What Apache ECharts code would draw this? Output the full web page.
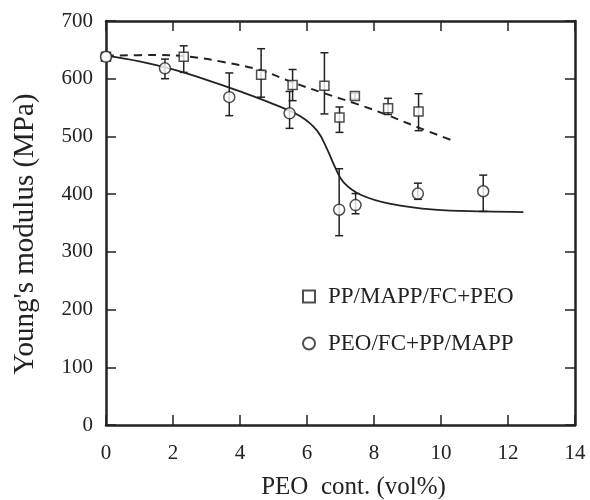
<!DOCTYPE html>
<html>
<head>
<meta charset="utf-8">
<script src="https://cdn.jsdelivr.net/npm/echarts@6/dist/echarts.min.js"></script>
<style>
  html, body { margin: 0; padding: 0; background: #fff; }
  #main { width: 590px; height: 500px; }
</style>
</head>
<body>
<div id="main"></div>
<script>
  // PP/MAPP/FC+PEO (squares)
  var sqX = [0, 2.32, 4.63, 5.57, 6.52, 6.97, 7.43, 8.42, 9.33]
  var sqY = [638, 638, 607, 589, 588, 533, 570, 549, 543]
  var sqLow = [638, 611, 568, 562, 539, 507, 565, 538, 510]
  var sqHigh = [638, 657, 652, 616, 645, 551, 575, 566, 574]
  // PEO/FC+PP/MAPP (circles)
  var ciX = [0, 1.76, 3.68, 5.48, 6.96, 7.45, 9.31, 11.26]
  var ciY = [638, 618, 568, 540, 373, 381, 401, 405]
  var ciLow = [638, 600, 536, 514, 328, 366, 391, 370]
  var ciHigh = [638, 634, 610, 578, 444, 401, 419, 433]
  // fitted curves
  var dashX = [0, 1.5, 2.5, 3.5, 4.6, 5.6, 6.5, 7.5, 8.4, 9.3, 10.34]
  var dashY = [640, 641, 638, 629, 615, 593, 575, 556, 537, 516, 493]
  var solidX = [0, 1, 2, 3, 4, 5, 5.8, 6.3, 6.6, 6.85, 7.1, 7.6, 8.5, 9.8, 11.3, 12.46]
  var solidY = [640, 630, 616, 598, 578, 556, 535, 510, 478, 445, 420, 399, 383, 373, 370, 369]

  var seriesNames = ['PP/MAPP/FC+PEO', 'PEO/FC+PP/MAPP']
  var ink = '#222'
  var font = '"Liberation Serif", "DejaVu Serif", serif'

  function zip () {
    var arrs = arguments
    return arrs[0].map(function (v, i) {
      return Array.prototype.map.call(arrs, function (a) { return a[i] })
    })
  }

  function errorBar (params, api) {
    var x = api.value(0)
    var lo = api.coord([x, api.value(1)])
    var hi = api.coord([x, api.value(2)])
    var w = 4
    var st = { stroke: ink, lineWidth: 1.5 }
    return {
      type: 'group',
      children: [
        { type: 'line', shape: { x1: lo[0], y1: lo[1], x2: hi[0], y2: hi[1] }, style: st },
        { type: 'line', shape: { x1: lo[0] - w, y1: lo[1], x2: lo[0] + w, y2: lo[1] }, style: st },
        { type: 'line', shape: { x1: hi[0] - w, y1: hi[1], x2: hi[0] + w, y2: hi[1] }, style: st }
      ]
    }
  }

  function axisBase (extra) {
    var base = {
      type: 'value',
      axisLine: { show: true, onZero: false, lineStyle: { color: ink, width: 2.5 } },
      axisTick: { show: true, inside: true, length: 10, lineStyle: { color: ink, width: 1.5 } },
      splitLine: { show: false },
      axisLabel: { color: ink, fontSize: 21, fontFamily: font, margin: 13 }
    }
    return Object.assign(base, extra)
  }

  var chart = echarts.init(document.getElementById('main'))
  chart.setOption({
    animation: false,
    backgroundColor: '#fff',
    grid: { left: 106, right: 15, top: 21, bottom: 75, outerBoundsMode: 'none', containLabel: false },
    legend: {
      orient: 'vertical',
      left: 297,
      top: 280,
      itemWidth: 12,
      itemHeight: 12,
      itemGap: 24,
      data: seriesNames,
      textStyle: { color: ink, fontSize: 23, fontFamily: font, padding: [0, 0, 0, 8] }
    },
    // y title placed as text so its centre can sit slightly below the plot middle
    graphic: [{
      type: 'text',
      x: 25,
      y: 234,
      rotation: Math.PI / 2,
      style: {
        text: "Young's modulus (MPa)",
        fill: ink,
        font: '29px ' + font,
        align: 'center',
        verticalAlign: 'middle'
      }
    }],
    xAxis: [
      axisBase({
        min: 0, max: 14, interval: 2, position: 'bottom',
        axisLabel: { color: ink, fontSize: 21, fontFamily: font, margin: 18 },
        name: 'PEO  cont. (vol%)', nameLocation: 'middle', nameGap: 50,
        nameTextStyle: { color: ink, fontSize: 25, fontFamily: font, padding: [0, 0, 0, 26] }
      }),
      axisBase({ min: 0, max: 14, interval: 2, position: 'top', axisLabel: { show: false } })
    ],
    yAxis: [
      axisBase({ min: 0, max: 700, interval: 100, position: 'left' }),
      axisBase({ min: 0, max: 700, interval: 100, position: 'right', axisLabel: { show: false } })
    ],
    series: [
      {
        type: 'line',
        data: zip(solidX, solidY),
        smooth: 0.4,
        symbol: 'none',
        lineStyle: { color: ink, width: 1.8 },
        z: 1
      },
      {
        type: 'line',
        data: zip(dashX, dashY),
        smooth: 0.4,
        symbol: 'none',
        lineStyle: { color: ink, width: 2, type: [8, 6] },
        z: 1
      },
      {
        type: 'custom',
        renderItem: errorBar,
        data: zip(sqX, sqLow, sqHigh),
        encode: { x: 0, y: [1, 2] },
        z: 2
      },
      {
        type: 'custom',
        renderItem: errorBar,
        data: zip(ciX, ciLow, ciHigh),
        encode: { x: 0, y: [1, 2] },
        z: 2
      },
      {
        name: seriesNames[0],
        type: 'scatter',
        symbol: 'rect',
        symbolSize: 9,
        data: zip(sqX, sqY),
        itemStyle: { color: '#fff', borderColor: ink, borderWidth: 1.5 },
        z: 3
      },
      {
        name: seriesNames[1],
        type: 'scatter',
        symbol: 'circle',
        symbolSize: 11,
        data: zip(ciX, ciY),
        itemStyle: { color: '#fff', borderColor: ink, borderWidth: 1.5 },
        z: 3
      }
    ]
  })
</script>
</body>
</html>
